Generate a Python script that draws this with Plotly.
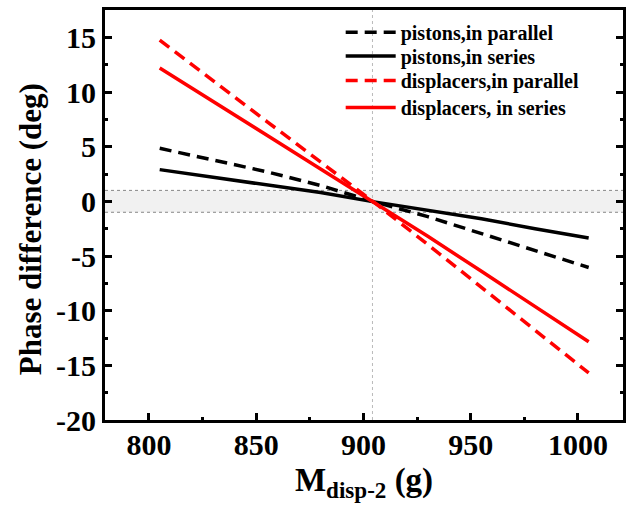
import plotly.graph_objects as go

# Second displacer mass (g)
mass = [805, 830, 855, 880, 905, 930, 955, 980, 1005]

# Phase difference (deg) for each configuration
pistons_parallel = [4.85, 3.8, 2.7, 1.45, -0.05, -1.4, -2.95, -4.5, -6.05]
pistons_series = [2.9, 2.2, 1.5, 0.8, -0.05, -0.8, -1.6, -2.5, -3.35]
displacers_parallel = [14.75, 11.0, 7.3, 3.6, -0.1, -3.95, -7.85, -11.8, -15.7]
displacers_series = [12.2, 9.15, 6.05, 2.95, -0.1, -3.2, -6.4, -9.6, -12.85]

x_ticks = [800, 850, 900, 950, 1000]
y_ticks = [-20, -15, -10, -5, 0, 5, 10, 15]
y_tick_text = ["-20", "-15", "-10", "-5", "0", "5", "10", "15"]

series = [
    ("pistons,in parallel", pistons_parallel, "black", "12px,7px"),
    ("pistons,in series", pistons_series, "black", "solid"),
    ("displacers,in parallel", displacers_parallel, "#ff0000", "12px,7px"),
    ("displacers, in series", displacers_series, "#ff0000", "solid"),
]

FONT = "Liberation Serif, Times New Roman, serif"
legend_rows = [0.946, 0.888, 0.828, 0.762]

fig = go.Figure()
for i, (name, vals, color, dash) in enumerate(series):
    fig.add_trace(go.Scatter(
        x=mass, y=vals, mode="lines", name=name, showlegend=True,
        line=dict(color=color, width=3.5, dash=dash),
        legend="legend" if i == 0 else f"legend{i + 1}",
    ))

# Tolerance band of +/- 1 deg and the zero-crossing marker
fig.add_shape(type="rect", xref="paper", yref="y", x0=0, x1=1, y0=-1, y1=1,
              fillcolor="rgba(210,210,210,0.3)", line=dict(width=0), layer="below")
for yv in (1, -1):
    fig.add_shape(type="line", xref="paper", yref="y", x0=0, x1=1, y0=yv, y1=yv,
                  line=dict(color="#888888", width=1, dash="dot"), layer="below")
fig.add_shape(type="line", xref="x", yref="paper", x0=904.2, x1=904.2, y0=0, y1=1,
              line=dict(color="#bbbbbb", width=1, dash="dot"), layer="below")

axis_common = dict(
    showline=True, linecolor="black", linewidth=3,
    ticks="inside", ticklen=7, tickwidth=3, tickcolor="black",
    showgrid=False, zeroline=False,
    tickfont=dict(family=FONT, size=30, color="black", weight="bold"),
)

fig.update_xaxes(
    **axis_common, mirror=True, range=[779.5, 1021],
    tickmode="array", tickvals=x_ticks, ticktext=[str(v) for v in x_ticks],
    ticklabelstandoff=-4,
    minor=dict(ticks="inside", ticklen=3, tickwidth=3, tickcolor="black", dtick=25, tick0=800),
    title=dict(text="M<sub>disp-2</sub> (g)", standoff=8,
               font=dict(family=FONT, size=33, color="black", weight="bold")),
)
fig.update_yaxes(
    **axis_common, mirror="ticks", range=[-20, 17.5],
    tickmode="array", tickvals=y_ticks, ticktext=y_tick_text,
    minor=dict(ticks="inside", ticklen=3, tickwidth=3, tickcolor="black", dtick=2.5, tick0=0),
)

# Y axis title placed as an annotation for precise positioning
fig.add_annotation(
    text="Phase difference (deg)", textangle=-90, showarrow=False,
    xref="paper", yref="paper", x=-0.145, y=0.465, xanchor="center", yanchor="middle",
    font=dict(family=FONT, size=31, color="black", weight="bold"),
)

legend_style = dict(
    x=0.455, xanchor="left", yanchor="middle",
    bgcolor="rgba(0,0,0,0)", borderwidth=0,
    font=dict(family=FONT, size=20, color="black", weight="bold"),
    itemwidth=50,
)

fig.update_layout(
    width=635, height=507,
    margin=dict(l=105, r=12, t=7, b=87),
    paper_bgcolor="white", plot_bgcolor="white",
    showlegend=True,
    font=dict(family=FONT, color="black", weight="bold"),
    legend=dict(**legend_style, y=legend_rows[0], visible=True),
    legend2=dict(**legend_style, y=legend_rows[1], visible=True),
    legend3=dict(**legend_style, y=legend_rows[2], visible=True),
    legend4=dict(**legend_style, y=legend_rows[3], visible=True),
)

fig.write_html("out.html")
